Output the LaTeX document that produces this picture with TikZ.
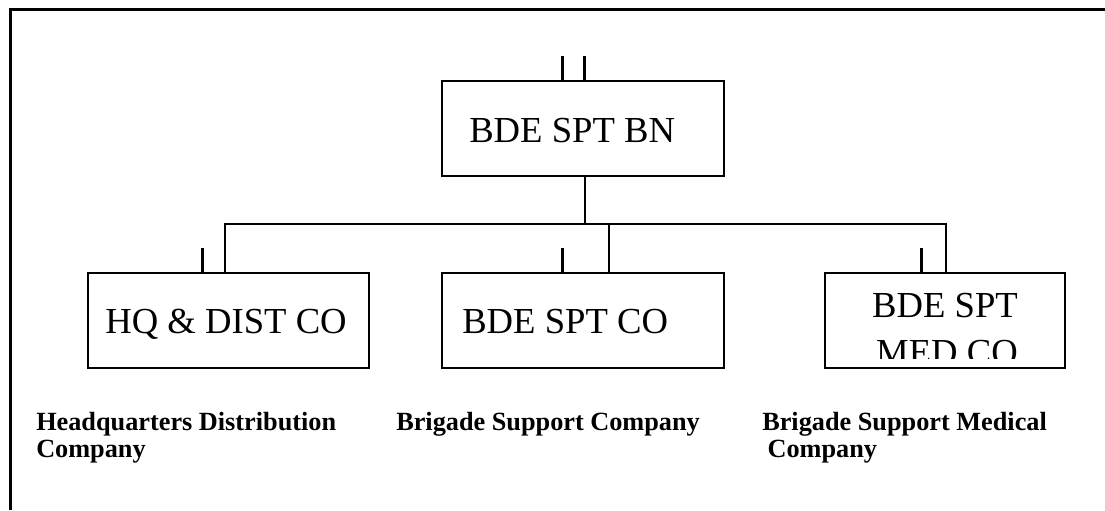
\documentclass[tikz,border=0pt]{standalone}
\usepackage{fontspec}
\setmainfont{Liberation Serif}
\begin{document}
\begin{tikzpicture}[x=0.75pt,y=-0.75pt,
  box/.style={draw, line width=1.5pt, rectangle, inner sep=0pt},
  boxtext/.style={font=\fontsize{27.5}{34}\selectfont, inner sep=0pt},
  lbl/.style={font=\bfseries\fontsize{19.7}{20.25}\selectfont, align=left, inner sep=0pt, anchor=base west},
  conn/.style={line width=1.5pt},
  tickmark/.style={line width=2.25pt},
  frameline/.style={line width=2.25pt}]
\useasboundingbox (0,0) rectangle (1105,510);
% outer frame (only top and left edges visible)
\draw[frameline] (10,510) -- (10,9.5) -- (1105,9.5);
% boxes
\node[box, minimum width=210.75pt, minimum height=71.25pt] (hq) at (228.5,320.5) {};
\node[box, minimum width=211.5pt, minimum height=71.25pt] (bn) at (583,128.5) {};
\node[box, minimum width=211.5pt, minimum height=71.25pt] (spt) at (583,320.5) {};
\node[box, minimum width=180pt, minimum height=71.25pt] (med) at (945,320.5) {};
% box texts
\node[boxtext, anchor=base west] (bnt) at (469,142) {BDE SPT BN};
\node[boxtext, anchor=base east] (hqt) at (347,333) {HQ \& DIST CO};
\node[boxtext, anchor=base west] (sptt) at (462,333) {BDE SPT CO};
\begin{scope}
  \clip (825,273) rectangle (1065,358);
  \node[boxtext, anchor=base] (medt1) at (945,317) {BDE SPT};
  \node[boxtext, anchor=base] (medt2) at (947,364) {MED CO};
\end{scope}
% connectors
\coordinate (busL) at (225,224);
\coordinate (busM) at (609,224);
\coordinate (busR) at (946,224);
\draw[conn] (bn.south -| 585,0) -- (busL -| 585,0);
\draw[conn] (busL |- hq.north) -- (busL) -- (busR) -- (busR |- med.north);
\draw[conn] (busM) -- (busM |- spt.north);
% unit size ticks
\draw[tickmark] (bn.north -| 562,0) -- ++(0,-24);
\draw[tickmark] (bn.north -| 584,0) -- ++(0,-24);
\draw[tickmark] (hq.north -| 202,0) -- ++(0,-24);
\draw[tickmark] (spt.north -| 562,0) -- ++(0,-24);
\draw[tickmark] (med.north -| 921,0) -- ++(0,-24);
% labels
\node[lbl] (l1) at (36,457) {Headquarters Distribution\\Company};
\node[lbl] (l2) at (396,430) {Brigade Support Company};
\node[lbl] (l3) at (762,457) {Brigade Support Medical\\\hspace*{4pt}Company};
\end{tikzpicture}
\end{document}
